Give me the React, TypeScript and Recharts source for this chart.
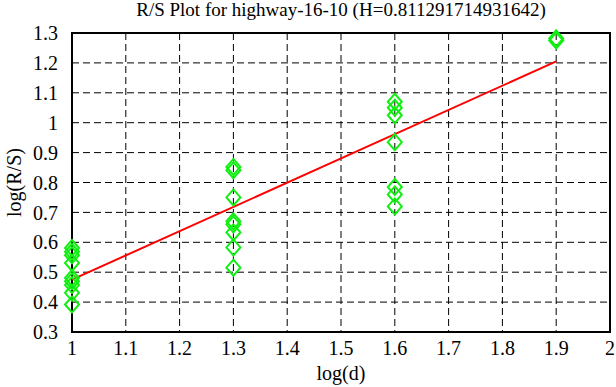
import { ScatterChart, Scatter, XAxis, YAxis, CartesianGrid, ReferenceArea, Label } from 'recharts';

// sample points, grouped by log(d)
const xs = [1, 1.3, 1.6, 1.9];
const ysAt1 = [0.581, 0.568, 0.557, 0.531, 0.481, 0.47, 0.457, 0.431, 0.392];
const ysAt13 = [0.852, 0.841, 0.75, 0.67, 0.66, 0.633, 0.583, 0.515];
const ysAt16 = [1.07, 1.05, 1.025, 0.935, 0.785, 0.76, 0.72];
const ysAt19 = [1.282, 1.275];

// fitted line end points
const fitX = [1, 1.9];
const fitY = [0.475, 1.205];

const xTicks = [1, 1.1, 1.2, 1.3, 1.4, 1.5, 1.6, 1.7, 1.8, 1.9, 2];
const yTicks = [0.3, 0.4, 0.5, 0.6, 0.7, 0.8, 0.9, 1, 1.1, 1.2, 1.3];

const points = [ysAt1, ysAt13, ysAt16, ysAt19].flatMap((ys, i) => ys.map((y) => ({ x: xs[i], y })));
const fit = fitX.map((x, i) => ({ x, y: fitY[i] }));

const font = '"Liberation Serif", "DejaVu Serif", serif';
const tickStyle = { fill: '#000', fontSize: 20, fontFamily: font };

function Diamond(props: any) {
  const { cx, cy } = props;
  if (cx == null || cy == null) return null;
  return (
    <polygon
      points={`${cx},${cy - 8} ${cx + 7},${cy} ${cx},${cy + 8} ${cx - 7},${cy}`}
      fill="none"
      stroke="#11ee11"
      strokeWidth={2}
    />
  );
}

const fmt = (v: number) => String(Math.round(v * 10) / 10);

export default function App() {
  return (
    <div style={{ position: 'relative', width: 616, height: 387, background: '#fff', fontFamily: font }}>
      <style>{'body{margin:0}'}</style>
      <div style={{ position: 'absolute', top: 0, left: 72, width: 538, textAlign: 'center', fontSize: 19, lineHeight: '20px' }}>
        R/S Plot for highway-16-10 (H=0.811291714931642)
      </div>
      <ScatterChart width={616} height={387} margin={{ top: 33, right: 6, bottom: 0, left: 0 }}>
        <CartesianGrid stroke="#000" strokeDasharray="7 4" />
        <XAxis
          type="number"
          dataKey="x"
          domain={[1, 2]}
          ticks={xTicks}
          tickFormatter={fmt}
          axisLine={false}
          tickLine={false}
          tick={tickStyle}
          tickMargin={3}
          height={55}
          interval={0}
        >
          <Label value="log(d)" position="insideBottom" offset={7} style={tickStyle} />
        </XAxis>
        <YAxis
          type="number"
          dataKey="y"
          domain={[0.3, 1.3]}
          ticks={yTicks}
          tickFormatter={fmt}
          axisLine={false}
          tickLine={false}
          tick={tickStyle}
          tickMargin={8}
          width={72}
          interval={0}
        >
          <Label value="log(R/S)" angle={-90} position="insideLeft" offset={14} style={{ ...tickStyle, textAnchor: 'middle' }} />
        </YAxis>
        <ReferenceArea x1={1} x2={2} y1={0.3} y2={1.3} fill="none" stroke="#000" strokeWidth={2} ifOverflow="visible" />
        <Scatter data={fit} line={{ stroke: '#ff0000', strokeWidth: 2 }} shape={() => null} isAnimationActive={false} />
        <Scatter data={points} shape={Diamond} isAnimationActive={false} />
      </ScatterChart>
    </div>
  );
}
